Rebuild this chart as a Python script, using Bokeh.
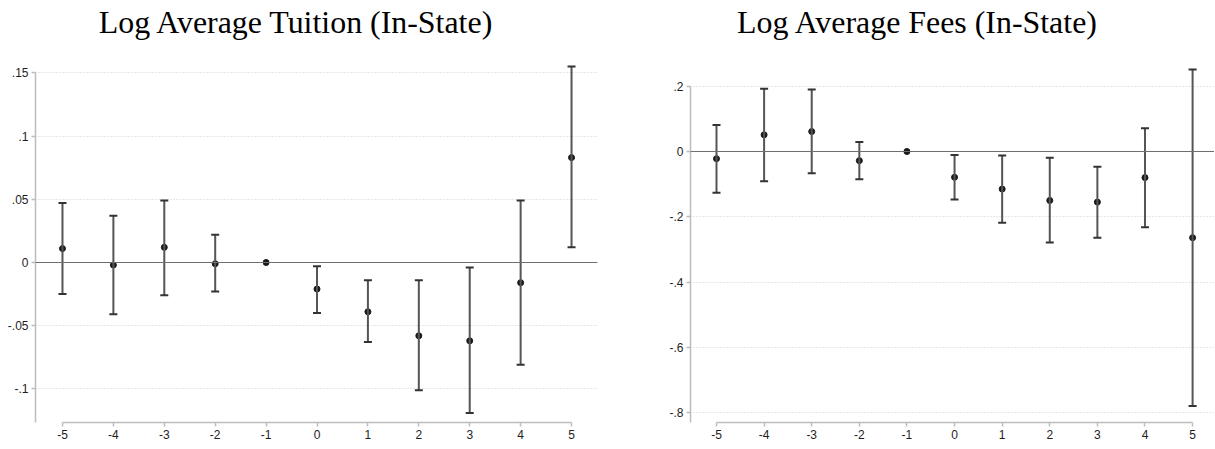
from bokeh.plotting import figure
from bokeh.layouts import row
from bokeh.models import ColumnDataSource, Whisker, TeeHead, Span, FixedTicker, Range1d
from bokeh.core.properties import value
from bokeh.embed import file_html
from bokeh.resources import INLINE

event_time = [-5, -4, -3, -2, -1, 0, 1, 2, 3, 4, 5]
x_tick_labels = ["-5", "-4", "-3", "-2", "-1", "0", "1", "2", "3", "4", "5"]

tuition_coef = [0.011, -0.002, 0.012, -0.001, 0.0, -0.021, -0.039, -0.058, -0.062, -0.016, 0.083]
tuition_lower = [-0.025, -0.041, -0.026, -0.023, 0.0, -0.040, -0.063, -0.101, -0.119, -0.081, 0.012]
tuition_upper = [0.047, 0.037, 0.049, 0.022, 0.0, -0.003, -0.014, -0.014, -0.004, 0.049, 0.155]

fees_coef = [-0.022, 0.051, 0.061, -0.028, 0.0, -0.079, -0.115, -0.150, -0.155, -0.080, -0.264]
fees_lower = [-0.126, -0.091, -0.067, -0.085, 0.0, -0.147, -0.218, -0.279, -0.264, -0.232, -0.779]
fees_upper = [0.081, 0.192, 0.190, 0.029, 0.0, -0.011, -0.012, -0.019, -0.047, 0.071, 0.251]

tuition_ticks = [-0.1, -0.05, 0, 0.05, 0.1, 0.15]
tuition_tick_labels = ["-.1", "-.05", "0", ".05", ".1", ".15"]
fees_ticks = [-0.8, -0.6, -0.4, -0.2, 0, 0.2]
fees_tick_labels = ["-.8", "-.6", "-.4", "-.2", "0", ".2"]

AXIS_GRAY = "#bdbdbd"
HEIGHT = 448
BOTTOM = 26
FRAME_H = HEIGHT - BOTTOM
TITLE_BASELINE_PX = 22   # title baseline, pixels below the top of the figure


def make_panel(coef, lower, upper, yticks, ylabels, y_start, y_end, y_axis_top,
               x_start, x_end, width, min_left, min_right):
    p = figure(width=width, height=HEIGHT, output_backend="svg", toolbar_location=None,
               x_range=Range1d(x_start, x_end), y_range=Range1d(y_start, y_end),
               min_border_left=min_left, min_border_right=min_right,
               min_border_top=0, min_border_bottom=BOTTOM)
    p.outline_line_color = None
    p.background_fill_color = "white"
    p.border_fill_color = "white"

    p.xgrid.visible = False
    p.ygrid.ticker = FixedTicker(ticks=yticks)
    p.ygrid.grid_line_color = "#cfcfcf"
    p.ygrid.grid_line_dash = "1 2"
    p.ygrid.grid_line_width = 1

    for ax in (p.xaxis[0], p.yaxis[0]):
        ax.axis_line_color = AXIS_GRAY
        ax.axis_line_width = 1.5
        ax.major_tick_line_color = AXIS_GRAY
        ax.major_tick_line_width = 1.5
        ax.major_tick_out = 4
        ax.major_tick_in = 0
        ax.minor_tick_line_color = None
        ax.major_label_text_font = "Liberation Sans"
        ax.major_label_text_font_size = "12px"
        ax.major_label_text_color = "#1e1e1e"
        ax.major_label_standoff = 3

    p.xaxis.ticker = FixedTicker(ticks=event_time)
    p.xaxis.major_label_overrides = {t: l for t, l in zip(event_time, x_tick_labels)}
    p.xaxis.bounds = (event_time[0], event_time[-1])

    p.yaxis.ticker = FixedTicker(ticks=yticks)
    p.yaxis.major_label_overrides = {t: l for t, l in zip(yticks, ylabels)}
    p.yaxis.bounds = (y_start, y_axis_top)

    p.add_layout(Span(location=0, dimension="width", line_color="#6e6e6e", line_width=1.2))

    idx = [i for i in range(len(event_time)) if upper[i] != lower[i]]
    src = ColumnDataSource(data=dict(
        x=[event_time[i] for i in idx],
        lower=[lower[i] for i in idx],
        upper=[upper[i] for i in idx],
    ))
    w = Whisker(source=src, base="x", lower="lower", upper="upper", dimension="height",
                line_color="#555555", line_width=2, level="glyph",
                upper_head=TeeHead(size=8, line_color="#333333", line_width=2),
                lower_head=TeeHead(size=8, line_color="#333333", line_width=2))
    p.add_layout(w)

    p.scatter(event_time, coef, marker="circle", size=6, fill_color="#1a1a1a",
              line_color="#1a1a1a")

    units_per_px = (y_end - y_start) / FRAME_H
    title_y = y_end - TITLE_BASELINE_PX * units_per_px
    return p, title_y


def add_title(p, title, x_center, y):
    p.text(x=[x_center], y=[y], text=[title], text_font=value("Liberation Serif"),
           text_font_size=value("31.9px"), text_color="black", text_align="center",
           text_baseline="alphabetic")


left, ty = make_panel(tuition_coef, tuition_lower, tuition_upper, tuition_ticks,
                      tuition_tick_labels, -0.1266, 0.2073, 0.15, -5.53, 5.51, 600, 35, 3)
add_title(left, "Log Average Tuition (In-State)", -0.40, ty)

right, ty2 = make_panel(fees_coef, fees_lower, fees_upper, fees_ticks, fees_tick_labels,
                        -0.8298, 0.4623, 0.2, -5.546, 5.46, 614, 90, 0)
add_title(right, "Log Average Fees (In-State)", -0.77, ty2)

layout = row(left, right)
open("out.html", "w").write(file_html(layout, INLINE))
